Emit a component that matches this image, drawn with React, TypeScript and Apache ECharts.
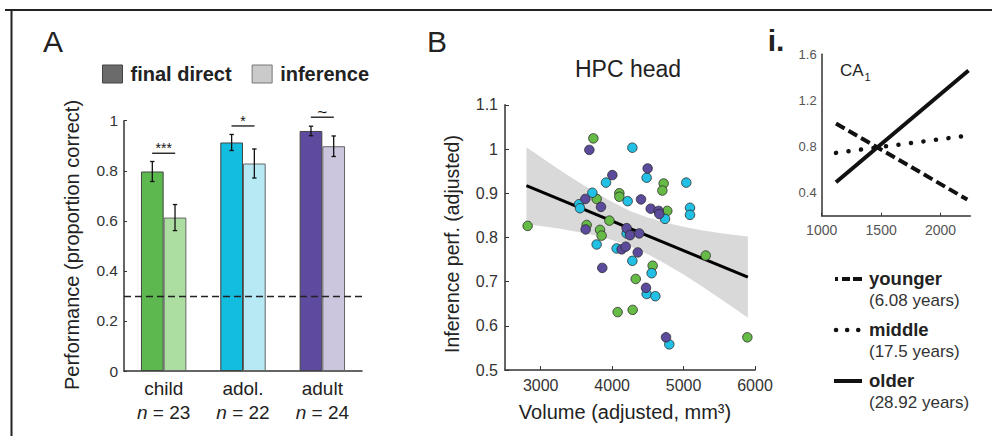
import React, { useEffect, useRef } from "react";
import * as echarts from "echarts";

const FONT = '"Liberation Sans", Arial, Helvetica, sans-serif';

// ---------- Panel A data ----------
const groups = ["child", "adol.", "adult"];
const groupN = [23, 22, 24];
const finalDirect = [0.797, 0.913, 0.959];
const finalDirectErr = [0.04, 0.032, 0.019];
const inference = [0.613, 0.829, 0.898];
const inferenceErr = [0.052, 0.058, 0.041];
const darkColors = ["#5cb84f", "#13bde0", "#5e4a9f"];
const lightColors = ["#acdea2", "#b7e9f5", "#cbc5de"];
const sigY = [0.87, 0.979, 1.014];
const sigLabels = ["***", "*", "~"];
const chanceLevel = 0.3;
const yTicksA = [0, 0.2, 0.4, 0.6, 0.8, 1];

// ---------- Panel B data ----------
const childPoints = [
  [3737, 1.024], [4721, 0.922], [4703, 0.906], [3783, 0.887], [4101, 0.9],
  [4101, 0.892], [4772, 0.86], [2817, 0.826], [3643, 0.828], [3830, 0.817],
  [3853, 0.804], [3962, 0.838], [4567, 0.736], [4330, 0.706], [4077, 0.631],
  [4287, 0.636], [5893, 0.574], [5310, 0.759],
];
const adolPoints = [
  [4283, 1.003], [3914, 0.924], [4483, 0.935], [5038, 0.924], [3723, 0.901],
  [4217, 0.882], [3536, 0.875], [3550, 0.866], [5090, 0.867], [5090, 0.851],
  [3783, 0.784], [4203, 0.809], [4063, 0.775], [4283, 0.747], [4553, 0.719],
  [4483, 0.672], [4605, 0.667], [4800, 0.558], [4740, 0.842],
];
const adultPoints = [
  [3681, 0.998], [4003, 0.941], [4497, 0.956], [3625, 0.887], [4404, 0.886],
  [3844, 0.869], [4540, 0.865], [4652, 0.86], [3629, 0.818], [4203, 0.821],
  [4250, 0.805], [4380, 0.809], [4133, 0.773], [4190, 0.779], [4358, 0.766],
  [3862, 0.731], [4474, 0.686], [4754, 0.574], [4660, 0.853],
];
const fitLine = [[2800, 0.917], [5900, 0.71]];
const bandX = [2800, 3000, 3250, 3500, 3750, 4000, 4250, 4500, 4750, 5000, 5250, 5500, 5750, 5900];
const bandUpper = [1.004, 0.982, 0.954, 0.928, 0.903, 0.88, 0.86, 0.845, 0.833, 0.824, 0.816, 0.81, 0.805, 0.802];
const bandLower = [0.83, 0.826, 0.82, 0.813, 0.805, 0.794, 0.78, 0.762, 0.74, 0.716, 0.69, 0.663, 0.635, 0.618];
const xTicksB = [3000, 4000, 5000, 6000];

// ---------- Panel i data ----------
const youngerLine = [[1120, 1.0], [2225, 0.34]];
const middleLine = [[1120, 0.745], [2215, 0.893]];
const olderLine = [[1120, 0.49], [2235, 1.46]];
const xTicksC = [1000, 1500, 2000];
const yTicksC = [0.4, 0.8, 1.2, 1.6];
const legendC = [
  { name: "younger", sub: "(6.08 years)" },
  { name: "middle", sub: "(17.5 years)" },
  { name: "older", sub: "(28.92 years)" },
];

const BAR_W = 22.7;
const plain = (v: number) => String(v);

export default function App() {
  const ref = useRef<HTMLDivElement>(null);
  useEffect(() => {
    if (!ref.current) return;
    const chart = echarts.init(ref.current, null, { renderer: "svg" });

    const errData: number[][] = [];
    groups.forEach((_, i) => {
      errData.push([i, finalDirect[i] - finalDirectErr[i], finalDirect[i] + finalDirectErr[i], 0]);
      errData.push([i, inference[i] - inferenceErr[i], inference[i] + inferenceErr[i], 1]);
    });

    const axisLineStyle = { color: "#333", width: 1.5 };
    const tickLabel = { fontSize: 16, color: "#333", fontFamily: FONT };

    const text = (x: number, y: number, t: string, extra: any = {}, rot = 0) => ({
      type: "text",
      x,
      y,
      rotation: rot,
      silent: true,
      style: {
        text: t,
        fontFamily: FONT,
        fontSize: 18,
        fill: "#222",
        align: "center",
        verticalAlign: "middle",
        ...extra,
      },
    });

    const legendRowsY = [279, 330, 381];
    const legendGraphics: any[] = [];
    legendC.forEach((it, i) => {
      const y = legendRowsY[i];
      let sample: any;
      if (i === 0) {
        sample = { type: "line", shape: { x1: 835, y1: y, x2: 862, y2: y }, style: { stroke: "#111", lineWidth: 4, lineDash: [3, 4, 8, 3, 9, 30] } };
      } else if (i === 1) {
        sample = { type: "line", shape: { x1: 836, y1: y, x2: 858.5, y2: y }, style: { stroke: "#111", lineWidth: 4.5, lineDash: [0.1, 11], lineCap: "round" } };
      } else {
        sample = { type: "line", shape: { x1: 834, y1: y, x2: 862, y2: y }, style: { stroke: "#111", lineWidth: 4 } };
      }
      legendGraphics.push(sample);
      legendGraphics.push(text(869, y - 1, it.name, { fontSize: 18.5, fontWeight: "bold", align: "left" }));
      legendGraphics.push(text(869, y + 21, it.sub, { fontSize: 17, fill: "#333", align: "left" }));
    });

    const option: any = {
      animation: false,
      textStyle: { fontFamily: FONT },
      legend: {
        left: 102,
        top: 64,
        padding: 0,
        itemWidth: 20,
        itemHeight: 18,
        itemGap: 20,
        selectedMode: false,
        textStyle: { fontSize: 20, fontWeight: "bold", color: "#222", fontFamily: FONT, padding: [0, 0, 0, 3] },
        data: [
          { name: "final direct", icon: "rect", itemStyle: { color: "#6b6b6b", borderColor: "#444", borderWidth: 1 } },
          { name: "inference", icon: "rect", itemStyle: { color: "#cacaca", borderColor: "#777", borderWidth: 1 } },
        ],
      },
      grid: [
        { left: 124, top: 120.7, width: 238, height: 250.3, outerBoundsMode: "none" },
        { left: 505, top: 104.8, width: 250, height: 265.2, outerBoundsMode: "none" },
        { left: 821.7, top: 54.3, width: 148.6, height: 161.4, outerBoundsMode: "none" },
      ],
      xAxis: [
        {
          gridIndex: 0,
          type: "category",
          data: groups,
          axisLine: { lineStyle: axisLineStyle },
          axisTick: { show: false },
          axisLabel: {
            interval: 0,
            margin: 5,
            formatter: (v: string) => {
              const i = groups.indexOf(v);
              return `{c|${v}}\n{i|n}{c| = ${groupN[i]}}`;
            },
            rich: {
              c: { fontSize: 19, color: "#222", lineHeight: 24, fontFamily: FONT },
              i: { fontSize: 19, color: "#222", lineHeight: 24, fontStyle: "italic", fontFamily: FONT },
            },
          },
        },
        {
          gridIndex: 1,
          type: "value",
          min: 2500,
          max: 6000,
          axisLine: { lineStyle: axisLineStyle },
          axisTick: { inside: true, length: 4, customValues: xTicksB, lineStyle: { color: "#333" } },
          axisLabel: { ...tickLabel, margin: 7, customValues: xTicksB, formatter: plain },
          splitLine: { show: false },
        },
        {
          gridIndex: 2,
          type: "value",
          min: 1000,
          max: 2250,
          axisLine: { lineStyle: axisLineStyle },
          axisTick: { inside: true, length: 3, customValues: xTicksC, lineStyle: { color: "#333" } },
          axisLabel: { fontSize: 14, color: "#555", fontFamily: FONT, margin: 7, customValues: xTicksC, formatter: plain },
          splitLine: { show: false },
        },
      ],
      yAxis: [
        {
          gridIndex: 0,
          type: "value",
          min: 0,
          max: 1,
          interval: 0.2,
          axisLine: { show: true, lineStyle: axisLineStyle },
          axisTick: { show: true, inside: true, length: 3, customValues: yTicksA, lineStyle: { color: "#333" } },
          axisLabel: { ...tickLabel, fontSize: 15.5, margin: 6, customValues: yTicksA, formatter: plain },
          splitLine: { show: false },
        },
        {
          gridIndex: 1,
          type: "value",
          min: 0.5,
          max: 1.1,
          interval: 0.1,
          axisLine: { show: true, lineStyle: axisLineStyle },
          axisTick: { show: true, inside: true, length: 4, lineStyle: { color: "#333" } },
          axisLabel: { ...tickLabel, margin: 7 },
          splitLine: { show: false },
        },
        {
          gridIndex: 2,
          type: "value",
          min: 0.2,
          max: 1.6,
          axisLine: { show: true, lineStyle: axisLineStyle },
          axisTick: { show: false },
          axisLabel: { fontSize: 13, color: "#555", fontFamily: FONT, margin: 5, customValues: yTicksC, formatter: plain },
          splitLine: { show: false },
        },
      ],
      series: [
        {
          name: "final direct",
          type: "bar",
          xAxisIndex: 0,
          yAxisIndex: 0,
          barWidth: BAR_W,
          barGap: "0%",
          itemStyle: { color: "#6b6b6b", borderColor: "#444", borderWidth: 1 },
          data: finalDirect.map((v, i) => ({ value: v, itemStyle: { color: darkColors[i] } })),
          markLine: {
            silent: true,
            symbol: "none",
            label: { show: false },
            lineStyle: { color: "#222", type: [7, 4], width: 1.3 },
            data: [{ yAxis: chanceLevel }],
          },
        },
        {
          name: "inference",
          type: "bar",
          xAxisIndex: 0,
          yAxisIndex: 0,
          barWidth: BAR_W,
          barGap: "0%",
          itemStyle: { color: "#cacaca", borderColor: "#666", borderWidth: 1 },
          data: inference.map((v, i) => ({ value: v, itemStyle: { color: lightColors[i] } })),
        },
        {
          name: "errors",
          type: "custom",
          xAxisIndex: 0,
          yAxisIndex: 0,
          z: 5,
          encode: { x: 0, y: [1, 2] },
          data: errData,
          renderItem: (params: any, api: any) => {
            const c = api.value(0);
            const pLo = api.coord([c, api.value(1)]);
            const pHi = api.coord([c, api.value(2)]);
            const x = pLo[0] + (api.value(3) === 0 ? -BAR_W / 2 : BAR_W / 2);
            const st = { stroke: "#111", lineWidth: 1.3 };
            return {
              type: "group",
              children: [
                { type: "line", shape: { x1: x, y1: pLo[1], x2: x, y2: pHi[1] }, style: st },
                { type: "line", shape: { x1: x - 2.2, y1: pLo[1], x2: x + 2.2, y2: pLo[1] }, style: st },
                { type: "line", shape: { x1: x - 2.2, y1: pHi[1], x2: x + 2.2, y2: pHi[1] }, style: st },
              ],
            };
          },
        },
        {
          name: "sig",
          type: "custom",
          xAxisIndex: 0,
          yAxisIndex: 0,
          z: 5,
          clip: false,
          encode: { x: 0, y: 1 },
          data: sigY.map((v, i) => [i, v]),
          renderItem: (params: any, api: any) => {
            const p = api.coord([api.value(0), api.value(1)]);
            const label = sigLabels[params.dataIndex];
            return {
              type: "group",
              children: [
                { type: "line", shape: { x1: p[0] - 11.5, y1: p[1], x2: p[0] + 11.5, y2: p[1] }, style: { stroke: "#111", lineWidth: 1.3 } },
                {
                  type: "text",
                  x: p[0],
                  y: p[1] - 5,
                  style: { text: label, fontFamily: FONT, fontSize: label === "~" ? 17 : 14, fill: "#111", align: "center", verticalAlign: "middle" },
                },
              ],
            };
          },
        },
        {
          name: "band",
          type: "custom",
          xAxisIndex: 1,
          yAxisIndex: 1,
          z: 1,
          encode: { x: 0, y: 1 },
          data: [[bandX[0], bandUpper[0]]],
          renderItem: (params: any, api: any) => {
            const pts: number[][] = [];
            bandX.forEach((x, i) => pts.push(api.coord([x, bandUpper[i]])));
            for (let i = bandX.length - 1; i >= 0; i--) pts.push(api.coord([bandX[i], bandLower[i]]));
            return { type: "polygon", shape: { points: pts }, style: { fill: "#d9d9d9", stroke: "none" } };
          },
        },
        {
          name: "fit",
          type: "line",
          xAxisIndex: 1,
          yAxisIndex: 1,
          z: 2,
          symbol: "none",
          lineStyle: { color: "#000", width: 3 },
          data: fitLine,
        },
        ...[
          { name: "child pts", data: childPoints, color: "#66bb46" },
          { name: "adol pts", data: adolPoints, color: "#22c0e4" },
          { name: "adult pts", data: adultPoints, color: "#5c4a9d" },
        ].map((s) => ({
          name: s.name,
          type: "scatter",
          xAxisIndex: 1,
          yAxisIndex: 1,
          z: 3,
          symbolSize: 9.5,
          itemStyle: { color: s.color, borderColor: "#2a2a2a", borderWidth: 0.8, opacity: 1 },
          data: s.data,
        })),
        {
          name: "younger",
          type: "line",
          xAxisIndex: 2,
          yAxisIndex: 2,
          symbol: "none",
          lineStyle: { color: "#111", width: 4, type: [10, 4.5] },
          data: youngerLine,
        },
        {
          name: "middle",
          type: "line",
          xAxisIndex: 2,
          yAxisIndex: 2,
          symbol: "none",
          lineStyle: { color: "#111", width: 4.5, type: [0.1, 12.5], cap: "round" },
          data: middleLine,
        },
        {
          name: "older",
          type: "line",
          xAxisIndex: 2,
          yAxisIndex: 2,
          symbol: "none",
          lineStyle: { color: "#111", width: 4 },
          data: olderLine,
        },
      ],
      graphic: [
        { type: "line", silent: true, shape: { x1: 5, y1: 10, x2: 992, y2: 10 }, style: { stroke: "#222", lineWidth: 2 } },
        { type: "line", silent: true, shape: { x1: 11.5, y1: 10, x2: 11.5, y2: 436 }, style: { stroke: "#222", lineWidth: 2 } },
        text(53, 41, "A", { fontSize: 30 }),
        text(437, 41, "B", { fontSize: 30 }),
        text(776, 40, "i.", { fontSize: 30, fontWeight: "bold" }),
        text(628, 69, "HPC head", { fontSize: 23 }),
        text(72, 245, "Performance (proportion correct)", { fontSize: 20 }, Math.PI / 2),
        text(452, 244, "Inference perf. (adjusted)", { fontSize: 19.5 }, Math.PI / 2),
        text(625, 412, "Volume (adjusted, mm\u00B3)", { fontSize: 20 }),
        text(840, 70, "CA", { fontSize: 17, align: "left" }),
        text(864.5, 77, "1", { fontSize: 11, align: "left" }),
        ...legendGraphics,
      ],
    };
    chart.setOption(option);
    return () => chart.dispose();
  }, []);
  return (
    <div
      ref={ref}
      style={{ position: "absolute", left: 0, top: 0, width: 992, height: 436, background: "#fff" }}
    />
  );
}
